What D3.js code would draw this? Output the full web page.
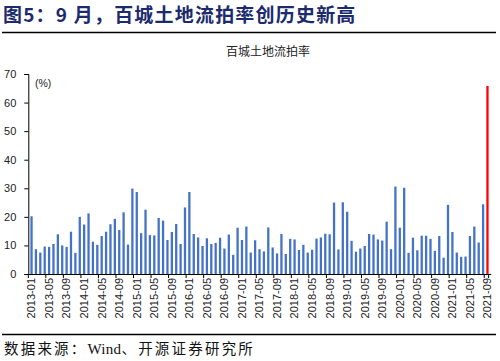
<!DOCTYPE html>
<html><head><meta charset="utf-8">
<script src="https://cdn.jsdelivr.net/npm/d3@7"></script>
<style>body{margin:0;background:#fff}svg{display:block}</style>
</head><body>
<script>
const months = [];
for (let y = 2013; y <= 2021; y++) for (let m = 1; m <= 12; m++) {
  if (y === 2021 && m > 9) break;
  months.push(y + "-" + String(m).padStart(2, "0"));
}
const values = [
  20.2, 8.7, 7.5, 9.6, 9.5, 10.5, 13.9, 10.0, 9.5, 14.8, 7.4, 20.0,
  17.3, 21.2, 11.3, 10.2, 13.3, 14.8, 17.4, 19.3, 15.4, 21.6, 10.3, 29.9,
  28.7, 14.3, 22.5, 13.6, 13.5, 19.6, 18.7, 11.9, 14.7, 17.5, 10.5, 23.3,
  28.7, 14.0, 12.8, 9.8, 12.5, 10.5, 10.9, 12.7, 8.9, 13.8, 6.7, 16.2,
  11.9, 16.6, 7.5, 11.8, 8.7, 7.9, 16.3, 9.3, 7.2, 14.0, 7.0, 12.3,
  12.1, 8.4, 10.2, 7.5, 8.5, 12.4, 12.8, 14.1, 13.9, 25.0, 8.6, 25.1,
  21.8, 11.6, 7.8, 8.9, 9.8, 14.0, 13.8, 12.1, 11.7, 18.3, 8.7, 30.6,
  16.2, 30.2, 7.4, 12.7, 8.3, 13.4, 13.4, 12.3, 8.1, 13.3, 5.7, 24.2,
  14.7, 7.5, 6.0, 6.1, 13.3, 16.6, 11.0, 24.4, 65.8
];
const yTicks = [0, 10, 20, 30, 40, 50, 60, 70];
const highlight = "2021-09";

const W = 500, H = 361;
const svg = d3.select("body").append("svg").attr("width", W).attr("height", H);
const cjk = "'Noto Sans CJK SC', sans-serif";
const latin = "'Liberation Sans', Arial, sans-serif";

svg.append("text").attr("x", 3).attr("y", 22)
  .attr("font-family", cjk).attr("font-weight", "bold").attr("font-size", 19)
  .attr("letter-spacing", 1.2)
  .attr("fill", "#1c2a6e").text("图5：9 月，百城土地流拍率创历史新高");
svg.append("line").attr("x1", 2).attr("x2", 496).attr("y1", 32.5).attr("y2", 32.5)
  .attr("stroke", "#000").attr("stroke-width", 1.3);

svg.append("text").attr("x", 268).attr("y", 56).attr("text-anchor", "middle")
  .attr("font-family", cjk).attr("font-size", 12).attr("fill", "#222")
  .text("百城土地流拍率");

const x = d3.scaleBand().domain(months).range([28.3, 28.3 + 105 * 4.404]).padding(0.48);
const y = d3.scaleLinear().domain([0, 70]).range([274, 74]);

const g = svg.append("g");
g.selectAll("rect").data(months).join("rect")
  .attr("x", d => x(d)).attr("width", x.bandwidth())
  .attr("y", (d, i) => y(values[i])).attr("height", (d, i) => y(0) - y(values[i]))
  .attr("fill", d => d === highlight ? "#ff0000" : "#4472c4");

// y axis
const ya = svg.append("g").attr("transform", "translate(28.3,0)")
  .call(d3.axisLeft(y).tickValues(yTicks).tickSize(4).tickPadding(8));
ya.select(".domain").attr("stroke", "#000");
ya.selectAll(".tick line").attr("stroke", "#000");
ya.selectAll("text").attr("font-family", latin).attr("font-size", 11).attr("fill", "#222");

svg.append("text").attr("x", 35).attr("y", 87).attr("font-family", latin)
  .attr("font-size", 10.5).attr("fill", "#222").text("(%)");

// x axis
const labelMonths = months.filter((d, i) => i % 4 === 0);
const xa = svg.append("g").attr("transform", "translate(0,274)")
  .call(d3.axisBottom(x).tickValues(labelMonths).tickSize(0).tickPadding(4));
xa.select(".domain").attr("stroke", "#000");
xa.selectAll(".tick text").attr("font-family", latin).attr("font-size", 11).attr("fill", "#222")
  .attr("text-anchor", "end").attr("dy", "0.35em").attr("x", 0).attr("y", 0)
  .attr("transform", "translate(0,4) rotate(-90)");
// boundary tick marks every 4 categories
const step = x.step();
const bounds = d3.range(0, 106, 4).concat([105]);
svg.append("g").selectAll("line").data(bounds).join("line")
  .attr("x1", d => 28.3 + d * step).attr("x2", d => 28.3 + d * step)
  .attr("y1", 274).attr("y2", 278).attr("stroke", "#000");

svg.append("line").attr("x1", 2).attr("x2", 496).attr("y1", 334.5).attr("y2", 334.5)
  .attr("stroke", "#000").attr("stroke-width", 1.3);
const src = svg.append("text").attr("x", 4).attr("y", 354)
  .attr("font-family", cjk).attr("font-size", 14.5).attr("fill", "#111")
  .attr("letter-spacing", 2.2);
src.append("tspan").text("数据来源：");
src.append("tspan").attr("font-family", "'Liberation Serif', 'Times New Roman', serif")
  .attr("font-size", 15).attr("letter-spacing", 0.3).text("Wind");
src.append("tspan").text("、开源证券研究所");
</script>
</body></html>
